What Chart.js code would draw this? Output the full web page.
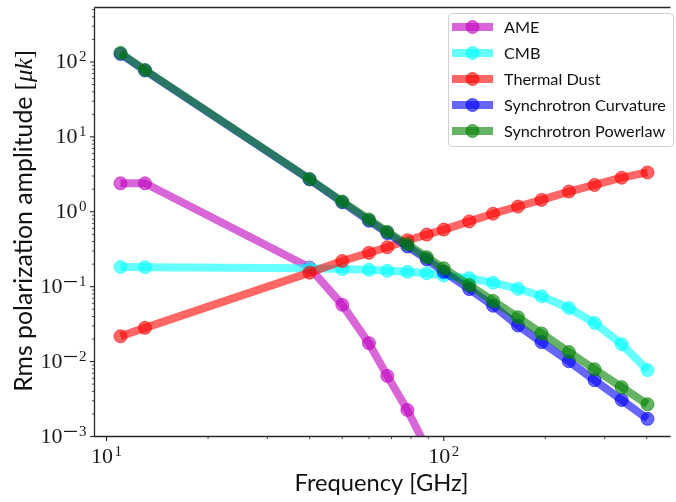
<!DOCTYPE html>
<html>
<head>
<meta charset="utf-8">
<script src="https://cdn.jsdelivr.net/npm/chart.js@4.4.1/dist/chart.umd.min.js"></script>
<style>
  html, body { margin: 0; padding: 0; background: #fff; overflow: hidden; }
  canvas { display: block; }
</style>
</head>
<body>
<canvas id="c" width="676" height="502"></canvas>
<script>
// Band centre frequencies [GHz]
const freqs = [11, 13, 40, 50, 60, 68, 78, 89, 100, 119, 140, 166, 195, 235, 280, 337, 402];

// RMS polarization amplitude per component [uK]
const ame      = [2.40, 2.40, 0.18, 0.0574, 0.0176, 0.00644, 0.00226, 0.0007, null, null, null, null, null, null, null, null, null];
const cmb      = [0.183, 0.182, 0.176, 0.172, 0.168, 0.163, 0.158, 0.151, 0.141, 0.130, 0.113, 0.094, 0.0745, 0.052, 0.0328, 0.0171, 0.0077];
const dust     = [0.0218, 0.0282, 0.154, 0.220, 0.283, 0.336, 0.417, 0.496, 0.578, 0.744, 0.942, 1.175, 1.44, 1.86, 2.28, 2.85, 3.35];
const syncCurv = [128, 77, 2.70, 1.34, 0.76, 0.52, 0.345, 0.232, 0.158, 0.093, 0.0557, 0.0303, 0.0182, 0.0101, 0.00565, 0.00307, 0.00172];
const syncPL   = [132, 78, 2.74, 1.37, 0.79, 0.54, 0.368, 0.248, 0.176, 0.105, 0.0645, 0.039, 0.0238, 0.0134, 0.0079, 0.00455, 0.00269];

const seriesNames  = ['AME', 'CMB', 'Thermal Dust', 'Synchrotron Curvature', 'Synchrotron Powerlaw'];
const seriesValues = [ame, cmb, dust, syncCurv, syncPL];
const seriesRGB    = ['191,0,191', '0,255,255', '255,0,0', '0,0,255', '0,128,0'];

const SANS = 'Lato, "DejaVu Sans", sans-serif';
const SERIF = '"Liberation Serif", "DejaVu Serif", serif';

const datasets = seriesNames.map((name, i) => ({
  label: name,
  data: freqs.map((f, k) => ({ x: f, y: seriesValues[i][k] })),
  borderColor: `rgba(${seriesRGB[i]},0.6)`,
  backgroundColor: `rgba(${seriesRGB[i]},0.6)`,
  pointBackgroundColor: `rgba(${seriesRGB[i]},0.6)`,
  pointBorderColor: `rgba(${seriesRGB[i]},0.6)`,
  borderWidth: 8,
  pointRadius: 6.5,
  pointBorderWidth: 1,
  pointHoverRadius: 6.5,
  borderJoinStyle: 'round',
  tension: 0,
  spanGaps: false,
  clip: 0,
  order: seriesNames.length - i   // later series drawn on top
}));

// scale a font so that a text run spans a given width
function fitSize(ctx, parts, target) {
  let w = 0;
  parts.forEach(p => { ctx.font = p.font(100); w += ctx.measureText(p.text).width; });
  return 100 * target / w;
}

// draws "10" with a raised exponent; returns nothing
function powLayout(ctx, exp) {
  ctx.font = '22px ' + SERIF;
  const wTen = ctx.measureText('10').width;
  ctx.font = '15px ' + SERIF;
  const digits = String(Math.abs(exp));
  const wDig = ctx.measureText(digits).width;
  const minusLen = exp < 0 ? 13 : 0;
  const minusGap = exp < 0 ? 2 : 0;
  const total = wTen + 1.5 + minusLen + minusGap + wDig;
  return { wTen, wDig, minusLen, minusGap, total, digits };
}
function drawPow(ctx, exp, startX, baseline, supBaseline) {
  const L = powLayout(ctx, exp);
  ctx.fillStyle = '#1a1a1a';
  ctx.textAlign = 'left';
  ctx.textBaseline = 'alphabetic';
  ctx.font = '22px ' + SERIF;
  ctx.fillText('10', startX, baseline);
  let x = startX + L.wTen + 1.5;
  if (exp < 0) {
    ctx.fillRect(x, supBaseline - 5.2, L.minusLen, 1.2);
    x += L.minusLen + L.minusGap;
  }
  ctx.font = '15px ' + SERIF;
  ctx.fillText(L.digits, x, supBaseline);
}

const decorations = {
  id: 'decorations',
  afterDatasetsDraw(chart) {
    const { ctx, chartArea: a, scales: { x, y } } = chart;
    ctx.save();

    // axes frame: left, bottom and top spines
    ctx.strokeStyle = '#262626';
    ctx.lineWidth = 1.3;
    ctx.beginPath();
    ctx.moveTo(a.left, a.top);
    ctx.lineTo(a.left, a.bottom);
    ctx.lineTo(a.right + 2, a.bottom);
    ctx.moveTo(a.left, a.top);
    ctx.lineTo(a.right + 2, a.top);
    ctx.stroke();

    // log ticks (major at decades, minor at 2..9)
    function logTicks(scale) {
      const out = [];
      const d0 = Math.floor(Math.log10(scale.min));
      const d1 = Math.ceil(Math.log10(scale.max));
      for (let d = d0; d <= d1; d++) {
        for (let m = 1; m <= 9; m++) {
          const v = m * Math.pow(10, d);
          if (v >= scale.min * 0.9999 && v <= scale.max * 1.0001) out.push({ v, major: m === 1, exp: d });
        }
      }
      return out;
    }
    ctx.strokeStyle = '#262626';
    logTicks(x).forEach(t => {
      const px = x.getPixelForValue(t.v);
      ctx.lineWidth = t.major ? 1.1 : 0.8;
      ctx.beginPath();
      ctx.moveTo(px, a.bottom);
      ctx.lineTo(px, a.bottom + (t.major ? 4.5 : 2.6));
      ctx.stroke();
      if (t.major) {
        const L = powLayout(ctx, t.exp);
        drawPow(ctx, t.exp, px - L.total / 2, a.bottom + 26.5, a.bottom + 19.5);
      }
    });
    logTicks(y).forEach(t => {
      const py = y.getPixelForValue(t.v);
      ctx.lineWidth = t.major ? 1.1 : 0.8;
      ctx.beginPath();
      ctx.moveTo(a.left, py);
      ctx.lineTo(a.left - (t.major ? 4.5 : 2.6), py);
      ctx.stroke();
      if (t.major) {
        const L = powLayout(ctx, t.exp);
        drawPow(ctx, t.exp, a.left - 8 - L.total, py + 6.5, py - 0.5);
      }
    });

    // x axis title
    const xTitle = 'Frequency [GHz]';
    const xs = fitSize(ctx, [{ text: xTitle, font: s => `${s}px ${SANS}` }], 174);
    ctx.font = `${xs}px ${SANS}`;
    ctx.fillStyle = '#111';
    ctx.textAlign = 'center';
    ctx.textBaseline = 'alphabetic';
    ctx.fillText(xTitle, (a.left + a.right) / 2, 491);

    // y axis title, with the unit in math italics
    const yParts = [
      { text: 'Rms polarization amplitude ', font: s => `${s}px ${SANS}` },
      { text: '[', font: s => `${s}px ${SERIF}` },
      { text: '\u03bck', font: s => `italic ${s}px ${SERIF}` },
      { text: ']', font: s => `${s}px ${SERIF}` }
    ];
    const ys = fitSize(ctx, yParts, 342);
    let totalY = 0;
    yParts.forEach(p => { ctx.font = p.font(ys); p.w = ctx.measureText(p.text).width; totalY += p.w; });
    ctx.save();
    ctx.translate(32, 221);
    ctx.rotate(-Math.PI / 2);
    ctx.textAlign = 'left';
    let cx = -totalY / 2;
    yParts.forEach(p => { ctx.font = p.font(ys); ctx.fillText(p.text, cx, 0); cx += p.w; });
    ctx.restore();

    // legend
    const box = { l: 448.5, t: 13.5, r: 673.5, b: 146.5 };
    ctx.beginPath();
    ctx.roundRect(box.l, box.t, box.r - box.l, box.b - box.t, 4);
    ctx.fillStyle = 'rgba(255,255,255,0.8)';
    ctx.fill();
    ctx.strokeStyle = '#d0d0d0';
    ctx.lineWidth = 1;
    ctx.stroke();
    const ls = fitSize(ctx, [{ text: 'Synchrotron Curvature', font: s => `${s}px ${SANS}` }], 162);
    chart.data.datasets.forEach((ds, i) => {
      const rowY = 27 + i * 26;
      ctx.strokeStyle = ds.borderColor;
      ctx.lineWidth = ds.borderWidth;
      ctx.beginPath();
      ctx.moveTo(452, rowY);
      ctx.lineTo(493, rowY);
      ctx.stroke();
      ctx.beginPath();
      ctx.arc(472.5, rowY, ds.pointRadius, 0, Math.PI * 2);
      ctx.fillStyle = ds.pointBackgroundColor;
      ctx.fill();
      ctx.lineWidth = ds.pointBorderWidth;
      ctx.strokeStyle = ds.pointBorderColor;
      ctx.stroke();
      ctx.font = `${ls}px ${SANS}`;
      ctx.fillStyle = '#111';
      ctx.textAlign = 'left';
      ctx.textBaseline = 'alphabetic';
      ctx.fillText(ds.label, 504, rowY + 5.5);
    });

    ctx.restore();
  }
};

new Chart(document.getElementById('c'), {
  type: 'line',
  data: { datasets },
  options: {
    responsive: false,
    animation: false,
    devicePixelRatio: 1,
    layout: { padding: { left: 94.5, top: 4.5, right: 0, bottom: 65.5 } },
    plugins: { legend: { display: false }, tooltip: { enabled: false } },
    events: [],
    scales: {
      x: { type: 'logarithmic', min: 9.21, max: 464, display: false },
      y: { type: 'logarithmic', min: 1e-3, max: 533, display: false }
    }
  },
  plugins: [decorations]
});
</script>
</body>
</html>
